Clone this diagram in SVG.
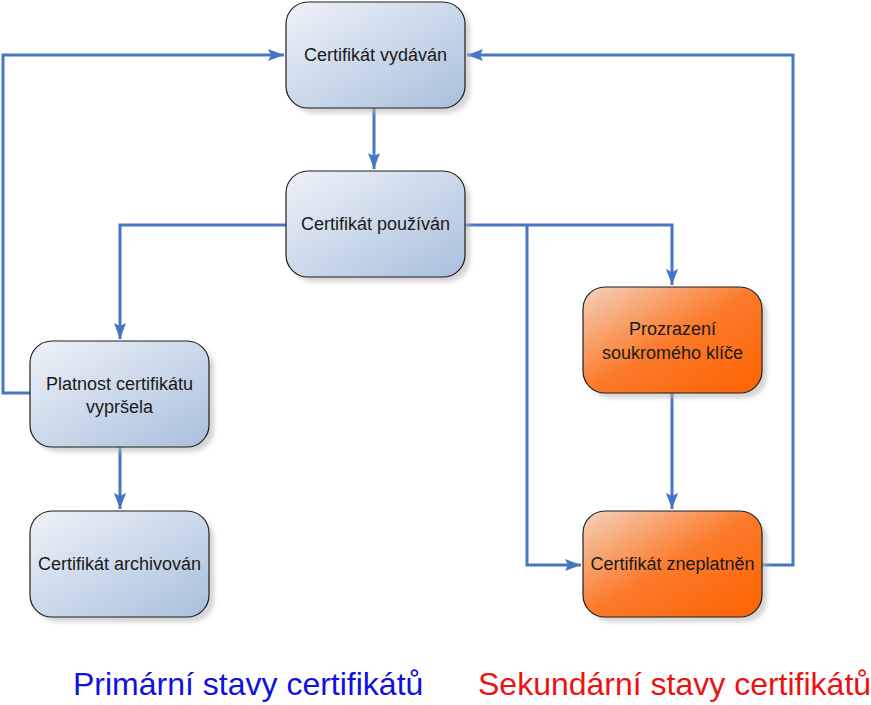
<svg xmlns="http://www.w3.org/2000/svg" width="871" height="705" viewBox="0 0 871 705">
<defs>
<linearGradient id="gb" x1="0" y1="0" x2="1" y2="1">
<stop offset="0" stop-color="#eef2f8"/>
<stop offset="1" stop-color="#a9bfdc"/>
</linearGradient>
<linearGradient id="go" x1="0" y1="0" x2="1" y2="1">
<stop offset="0" stop-color="#f4d2bd"/>
<stop offset="0.5" stop-color="#fb7a2a"/>
<stop offset="1" stop-color="#ff6200"/>
</linearGradient>
<marker id="ah" viewBox="0 0 16 12" refX="16" refY="6" markerWidth="16" markerHeight="12" markerUnits="userSpaceOnUse" orient="auto">
<path d="M0,0 L16,6 L0,12 L3,6 Z" fill="#4677c0"/>
</marker>
<filter id="sh" x="-10%" y="-10%" width="130%" height="130%">
<feGaussianBlur stdDeviation="2"/>
</filter>
</defs>
<style>
.box{stroke:#1e1e1e;stroke-width:1.2}
.shd{fill:#b8b8b8;opacity:0.6}
.lbl{font-family:"Liberation Sans",Arial,sans-serif;font-size:18px;fill:#1a1a1a;text-anchor:middle}
.c{fill:none;stroke:#4677c0;stroke-width:3}
.leg{font-family:"Liberation Sans",Arial,sans-serif;font-size:32px}
</style>
<rect width="871" height="705" fill="#ffffff"/>
<g id="connectors">
<path class="c" d="M374,108 V169" marker-end="url(#ah)"/>
<path class="c" d="M286,225 H120 V339" marker-end="url(#ah)"/>
<path class="c" d="M30,393 H3 V55 H284" marker-end="url(#ah)"/>
<path class="c" d="M120,447 V509" marker-end="url(#ah)"/>
<path class="c" d="M465,225 H672 V285" marker-end="url(#ah)"/>
<path class="c" d="M527,225 V565 H581" marker-end="url(#ah)"/>
<path class="c" d="M672,393 V509" marker-end="url(#ah)"/>
<path class="c" d="M762,565 H793 V55 H467" marker-end="url(#ah)"/>
</g>
<g id="n1">
<rect class="shd" x="291" y="7" width="179" height="106" rx="22" filter="url(#sh)"/>
<rect class="box" x="286" y="2" width="179" height="106" rx="22" fill="url(#gb)"/>
<text class="lbl" x="375.5" y="61">Certifikát vydáván</text>
</g>
<g id="n2">
<rect class="shd" x="291" y="176" width="179" height="106" rx="22" filter="url(#sh)"/>
<rect class="box" x="286" y="171" width="179" height="106" rx="22" fill="url(#gb)"/>
<text class="lbl" x="375.5" y="230">Certifikát používán</text>
</g>
<g id="n3">
<rect class="shd" x="35" y="346" width="179" height="106" rx="22" filter="url(#sh)"/>
<rect class="box" x="30" y="341" width="179" height="106" rx="22" fill="url(#gb)"/>
<text class="lbl" x="119.5" y="390">Platnost certifikátu</text>
<text class="lbl" x="119.5" y="413">vypršela</text>
</g>
<g id="n4">
<rect class="shd" x="35" y="516" width="179" height="106" rx="22" filter="url(#sh)"/>
<rect class="box" x="30" y="511" width="179" height="106" rx="22" fill="url(#gb)"/>
<text class="lbl" x="119.5" y="570">Certifikát archivován</text>
</g>
<g id="n5">
<rect class="shd" x="588" y="292" width="179" height="106" rx="22" filter="url(#sh)"/>
<rect class="box" x="583" y="287" width="179" height="106" rx="22" fill="url(#go)"/>
<text class="lbl" x="672.5" y="335">Prozrazení</text>
<text class="lbl" x="672.5" y="359">soukromého klíče</text>
</g>
<g id="n6">
<rect class="shd" x="588" y="516" width="179" height="106" rx="22" filter="url(#sh)"/>
<rect class="box" x="583" y="511" width="179" height="106" rx="22" fill="url(#go)"/>
<text class="lbl" x="672.5" y="570">Certifikát zneplatněn</text>
</g>
<text class="leg" x="73" y="695" fill="#1010e0">Primární stavy certifikátů</text>
<text class="leg" x="478" y="695" fill="#ee1111">Sekundární stavy certifikátů</text>
</svg>
